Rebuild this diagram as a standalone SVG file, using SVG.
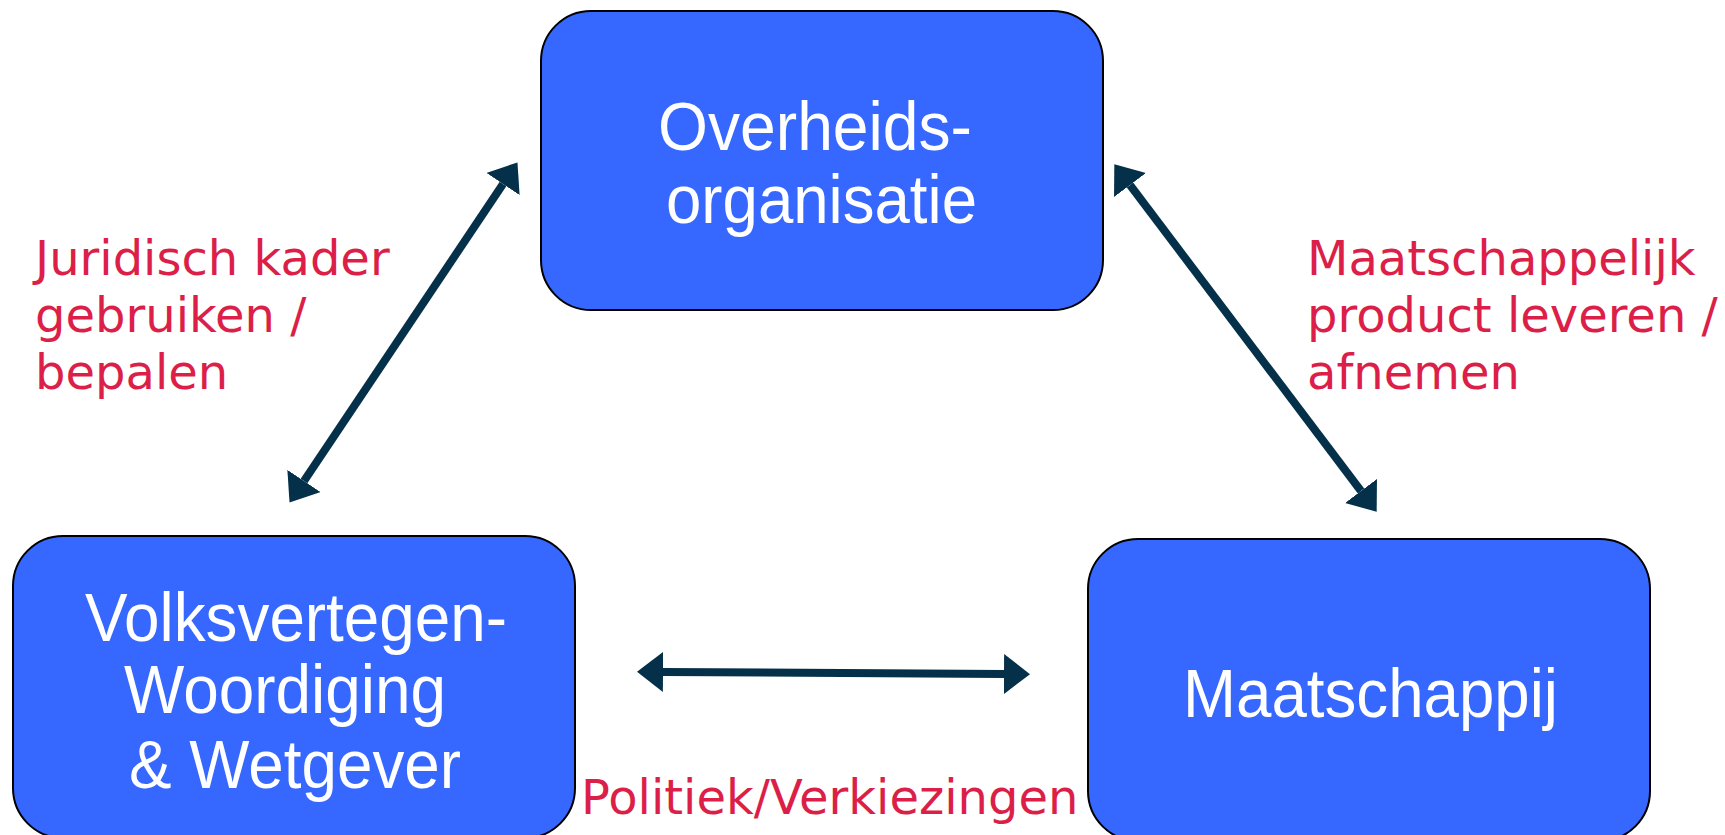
<svg xmlns="http://www.w3.org/2000/svg" width="1725" height="835" viewBox="0 0 1725 835">
<defs>
<style>
.box{fill:#3668FF;stroke:#000;stroke-width:2}
.bt{fill:#fff;font-family:"Liberation Sans",Arial,sans-serif;font-size:68px}
.lbl{fill:#DC1F48;font-family:"DejaVu Sans",Verdana,sans-serif;font-size:48px}
.conn{stroke:#05304A;stroke-width:8;fill:none}
</style>
<marker id="ah" viewBox="0 0 26 40" refX="0" refY="20" markerWidth="26" markerHeight="40" markerUnits="userSpaceOnUse" orient="auto-start-reverse">
<path d="M0,0 L26,20 L0,40 z" fill="#05304A"/>
</marker>
</defs>
<rect width="1725" height="835" fill="#fff"/>
<g id="overheid">
<rect class="box" x="541" y="11" width="562" height="299" rx="50"/>
<text class="bt" x="658" y="150" textLength="314" lengthAdjust="spacingAndGlyphs">Overheids-</text>
<text class="bt" x="666" y="223" textLength="311" lengthAdjust="spacingAndGlyphs">organisatie</text>
</g>
<g id="volksvertegenwoordiging">
<rect class="box" x="13" y="536" width="562" height="302" rx="50"/>
<text class="bt" x="85" y="641" textLength="422" lengthAdjust="spacingAndGlyphs">Volksvertegen-</text>
<text class="bt" x="124" y="713" textLength="322" lengthAdjust="spacingAndGlyphs">Woordiging</text>
<text class="bt" x="129" y="788" textLength="332" lengthAdjust="spacingAndGlyphs">&amp; Wetgever</text>
</g>
<g id="maatschappij">
<rect class="box" x="1088" y="539" width="562" height="302" rx="50"/>
<text class="bt" x="1183" y="717" textLength="375" lengthAdjust="spacingAndGlyphs">Maatschappij</text>
</g>
<g id="connectors">
<line class="conn" x1="304" y1="481" x2="503" y2="184" marker-start="url(#ah)" marker-end="url(#ah)"/>
<line class="conn" x1="1130" y1="185" x2="1361" y2="491" marker-start="url(#ah)" marker-end="url(#ah)"/>
<line class="conn" x1="663" y1="672" x2="1004" y2="674" marker-start="url(#ah)" marker-end="url(#ah)"/>
</g>
<g id="labels">
<text class="lbl" x="35" y="275">Juridisch kader</text>
<text class="lbl" x="35" y="332">gebruiken /</text>
<text class="lbl" x="35" y="389">bepalen</text>
<text class="lbl" x="1307" y="275">Maatschappelijk</text>
<text class="lbl" x="1307" y="332">product leveren /</text>
<text class="lbl" x="1307" y="389">afnemen</text>
<text class="lbl" x="581" y="814">Politiek/Verkiezingen</text>
</g>
</svg>
